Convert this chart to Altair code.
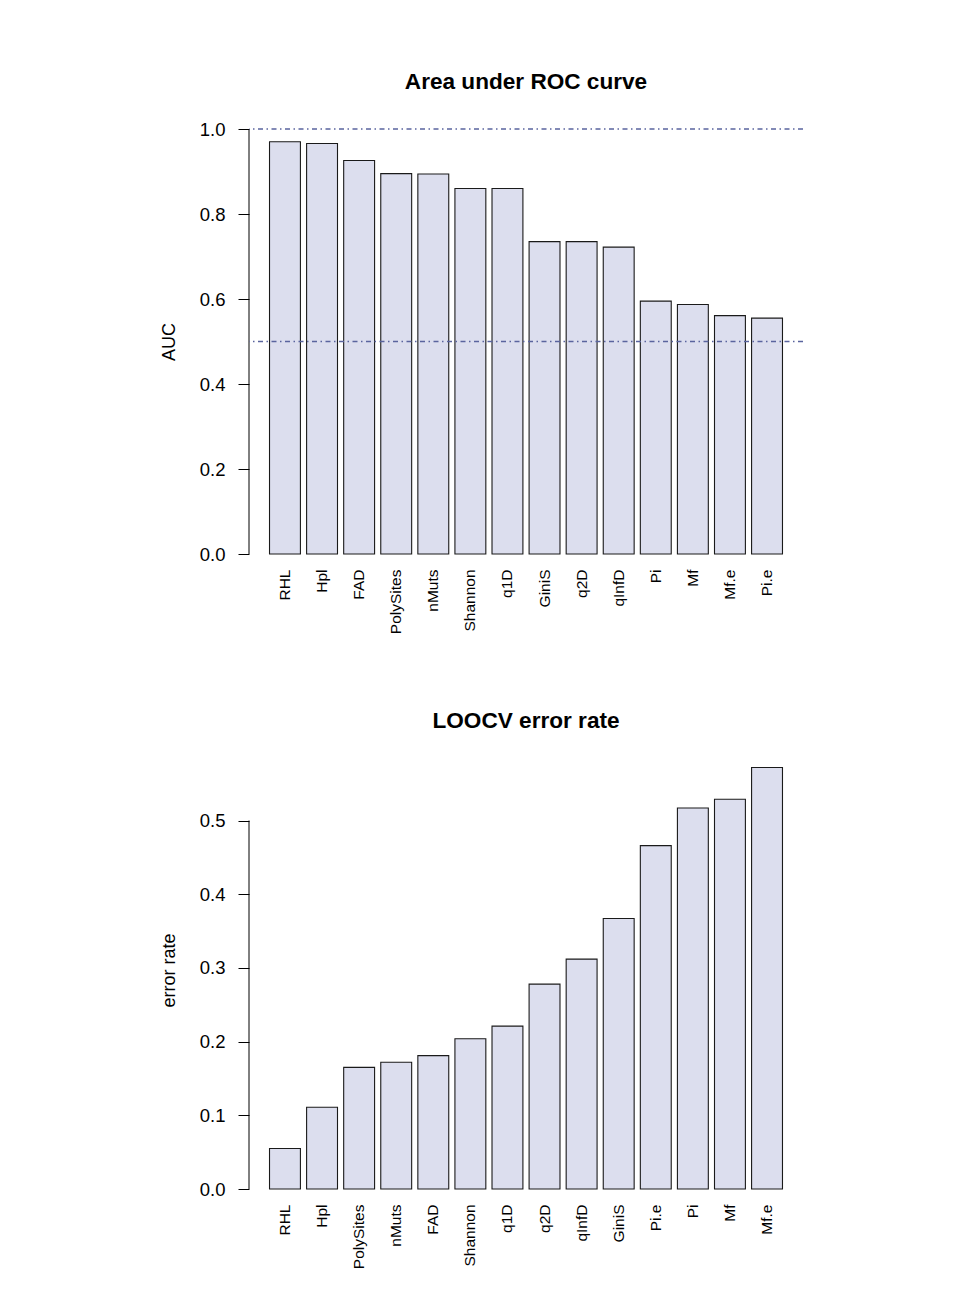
import altair as alt
import pandas as pd

# ---- data ----
auc_names = ["RHL", "Hpl", "FAD", "PolySites", "nMuts", "Shannon", "q1D",
             "GiniS", "q2D", "qInfD", "Pi", "Mf", "Mf.e", "Pi.e"]
auc_values = [0.970, 0.966, 0.926, 0.895, 0.894, 0.860, 0.860,
              0.735, 0.735, 0.722, 0.595, 0.587, 0.561, 0.555]
auc_ticks = [0.0, 0.2, 0.4, 0.6, 0.8, 1.0]
auc_refs = [0.5, 1.0]

err_names = ["RHL", "Hpl", "PolySites", "nMuts", "FAD", "Shannon", "q1D",
             "q2D", "qInfD", "GiniS", "Pi.e", "Pi", "Mf", "Mf.e"]
err_values = [0.055, 0.111, 0.165, 0.172, 0.181, 0.204, 0.221,
              0.278, 0.312, 0.367, 0.466, 0.517, 0.529, 0.572]
err_ticks = [0.0, 0.1, 0.2, 0.3, 0.4, 0.5]

FONT = "Liberation Sans"
BAR_FILL = "#dcdeee"
BAR_STROKE = "#1a1a1a"
REF_COLOR = "#5a649e"


def panel(names, values, ticks, ytitle, title, ymax, height, refs, title_offset):
    df = pd.DataFrame({"name": names, "value": values})
    xenc = alt.X(
        "name:N", sort=names,
        scale=alt.Scale(paddingInner=1 / 6, paddingOuter=0.5533),
        axis=alt.Axis(title=None, labelAngle=270, labelPadding=15, ticks=False,
                      domain=False, labelFontSize=15.5, labelFont=FONT,
                      labelColor="black"),
    )
    yscale = alt.Scale(domain=[0, ymax], nice=False, zero=True)
    yaxis = alt.Axis(values=ticks, format=".1f", title=ytitle,
                     domain=False, grid=False, tickSize=11,
                     tickColor="black", labelPadding=13,
                     labelFontSize=18.5, labelFont=FONT,
                     labelColor="black", titleFont=FONT,
                     titleFontSize=18, titleFontWeight="normal",
                     titleColor="black", titlePadding=21)
    bars = alt.Chart(df).mark_bar(
        fill=BAR_FILL, stroke=BAR_STROKE, strokeWidth=1.1
    ).encode(
        x=xenc,
        y=alt.Y("value:Q", scale=yscale, axis=yaxis),
    )
    axis_line = alt.Chart(pd.DataFrame({"value": [ticks[0]], "value2": [ticks[-1]]})).mark_rule(
        color="black", strokeWidth=1
    ).encode(
        x=alt.value(0),
        y=alt.Y("value:Q", scale=yscale, axis=yaxis),
        y2="value2:Q",
    )
    layers = [bars, axis_line]
    if refs:
        ref = alt.Chart(pd.DataFrame({"value": refs})).mark_rule(
            color=REF_COLOR, strokeWidth=1.3, strokeDash=[5, 3.5, 1.5, 3.5]
        ).encode(y=alt.Y("value:Q", scale=yscale, axis=yaxis))
        layers.append(ref)
    return alt.layer(*layers).properties(
        width=554, height=height,
        title=alt.TitleParams(title, fontSize=22.6, fontWeight="bold", font=FONT,
                              color="black", offset=title_offset, anchor="middle"),
    )


top = panel(auc_names, auc_values, auc_ticks, "AUC", "Area under ROC curve",
            1.0, 425, auc_refs, 26)
bottom = panel(err_names, err_values, err_ticks, "error rate", "LOOCV error rate",
               0.5944, 438, None, 18)

chart = alt.vconcat(top, bottom, spacing=76).properties(
    padding={"left": 152, "top": 63, "right": 10, "bottom": 10},
    background="white",
).configure_view(stroke=None)

chart.save("out.html", embed_options={"renderer": "svg", "actions": False})
